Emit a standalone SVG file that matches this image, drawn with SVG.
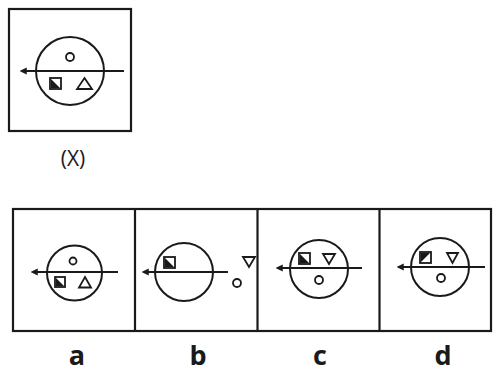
<svg xmlns="http://www.w3.org/2000/svg" width="493" height="374" viewBox="0 0 493 374">
<style>
.frame{fill:none;stroke:#1a1a1a;stroke-width:2.2}
.big{fill:none;stroke:#1a1a1a;stroke-width:2}
.sm{fill:none;stroke:#1a1a1a;stroke-width:1.8}
.ax{stroke:#1a1a1a;stroke-width:1.8;fill:none}
.blk{fill:#1a1a1a}
.lbl{font-family:"Open Sans","Liberation Sans",sans-serif;font-weight:700;font-size:27px;fill:#1a1a1a;text-anchor:middle}
.xl{font-family:"Open Sans","Liberation Sans",sans-serif;font-size:21px;fill:#1a1a1a;text-anchor:middle}
</style>
<defs>
<marker id="ah" viewBox="0 0 10 10" refX="1" refY="5" markerWidth="4" markerHeight="4" orient="auto-start-reverse" markerUnits="strokeWidth">
<path d="M0,0 L10,5 L0,10 z" fill="#1a1a1a"/>
</marker>
</defs>
<rect width="493" height="374" fill="#ffffff"/>
<g id="question">
<rect class="frame" x="9" y="9" width="122" height="122"/>
<circle class="big" cx="70" cy="71" r="34"/>
<circle class="sm" cx="70" cy="57" r="4"/>
<rect class="sm" x="50" y="78" width="11" height="11"/>
<polygon class="blk" points="51,79 51,88 60,88"/>
<polygon class="sm" points="84.5,78 92,89 77,89"/>
<text class="xl" x="73" y="166">(X)</text>
</g>
<g id="options-frame">
<rect class="frame" x="13" y="209" width="478" height="122"/>
<line class="frame" x1="135" y1="209" x2="135" y2="331"/>
<line class="frame" x1="257.5" y1="209" x2="257.5" y2="331"/>
<line class="frame" x1="379.5" y1="209" x2="379.5" y2="331"/>
</g>
<g id="option-a">
<circle class="big" cx="74.5" cy="273" r="27.5"/>
<circle class="sm" cx="73" cy="261" r="3.5"/>
<rect class="sm" x="55" y="277" width="10" height="10"/>
<polygon class="blk" points="56,278 56,286 64,286"/>
<polygon class="sm" points="85,277 91,287.5 79,287.5"/>
<text class="lbl" x="77" y="365">a</text>
</g>
<g id="option-b">
<circle class="big" cx="184" cy="272" r="29"/>
<rect class="sm" x="164" y="257" width="11" height="11"/>
<polygon class="blk" points="165,258 165,267 174,267"/>
<polygon class="sm" points="243,257 255,257 249,267"/>
<circle class="sm" cx="237" cy="283" r="4"/>
<text class="lbl" x="198" y="365">b</text>
</g>
<g id="option-c">
<circle class="big" cx="319" cy="269" r="29"/>
<rect class="sm" x="299" y="253" width="11" height="11"/>
<polygon class="blk" points="300,254 300,263 309,263"/>
<polygon class="sm" points="323,254 335,254 329,264"/>
<circle class="sm" cx="319" cy="280" r="4"/>
<text class="lbl" x="320" y="365">c</text>
</g>
<g id="option-d">
<circle class="big" cx="440" cy="267" r="29"/>
<rect class="sm" x="420" y="252" width="11" height="11"/>
<polygon class="blk" points="421,253 430,253 421,262"/>
<polygon class="sm" points="447,253 458,253 452.5,263"/>
<circle class="sm" cx="441" cy="278" r="4"/>
<text class="lbl" x="443" y="365">d</text>
</g>
<g id="connectors">
<line class="ax" x1="124" y1="71" x2="26" y2="71" marker-end="url(#ah)"/>
<line class="ax" x1="118" y1="272" x2="37" y2="272" marker-end="url(#ah)"/>
<line class="ax" x1="228" y1="272" x2="148" y2="272" marker-end="url(#ah)"/>
<line class="ax" x1="362" y1="268" x2="282" y2="268" marker-end="url(#ah)"/>
<line class="ax" x1="485" y1="267" x2="403" y2="267" marker-end="url(#ah)"/>
</g>
</svg>
